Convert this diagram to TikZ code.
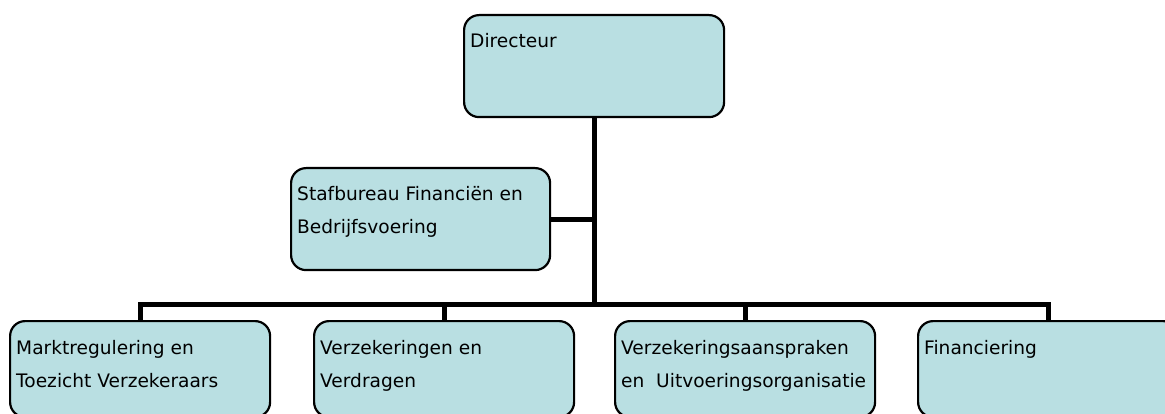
\documentclass[tikz,border=0pt]{standalone}
\usepackage{fontspec}
\setmainfont{DejaVu Sans}
\usetikzlibrary{calc}
\definecolor{boxfill}{RGB}{185,223,226}
\begin{document}
\begin{tikzpicture}[x=1pt,y=-1pt,
  unit/.style={draw=black, line width=2.2pt, fill=boxfill, rounded corners=15pt,
    minimum width=260pt, minimum height=102pt, inner sep=0pt, anchor=north west},
  lowunit/.style={unit, minimum height=96pt},
  unittext/.style={anchor=base west, align=left, inner sep=0pt,
    font=\fontsize{18.6}{33.5}\selectfont},
  link/.style={line width=5pt, line join=miter}]
\clip (0,0) rectangle (1165,414);
\useasboundingbox (0,0) rectangle (1165,414);

% units
\node[unit] (dir) at (463,14) {};
\node[unit, minimum width=259pt] (staf) at (290,167) {};
\node[lowunit] (b1) at (9,320) {};
\node[lowunit] (b2) at (313,320) {};
\node[lowunit] (b3) at (614,320) {};
\node[lowunit] (b4) at (917,320) {};

% labels; a node's base is the baseline of its last line
\node[unittext] (tdir) at ($(dir.north west)+(7,34)$) {Directeur};
\node[unittext] (tstaf) at ($(staf.north west)+(7,67)$) {Stafbureau Financiën en\\Bedrijfsvoering};
\node[unittext] (tb1) at ($(b1.north west)+(7,67.5)$) {Marktregulering en\\Toezicht Verzekeraars};
\node[unittext] (tb2) at ($(b2.north west)+(7,67.5)$) {Verzekeringen en\\Verdragen};
\node[unittext] (tb3) at ($(b3.north west)+(7,67.5)$) {Verzekeringsaanspraken\\en~~Uitvoeringsorganisatie};
\node[unittext] (tb4) at ($(b4.north west)+(7,34)$) {Financiering};

% connectors
\coordinate (busy) at (0,304.5);
\coordinate (bus) at (dir.south |- busy);
\draw[link] (dir.south) -- (bus);
\draw[link] (staf.east) -- (staf.east -| dir.south);
\draw[link] (b1.north) |- (bus) -| (b4.north);
\draw[link] (b2.north) -- (b2.north |- busy);
\draw[link] (b3.north) -- (b3.north |- busy);
\end{tikzpicture}
\end{document}
